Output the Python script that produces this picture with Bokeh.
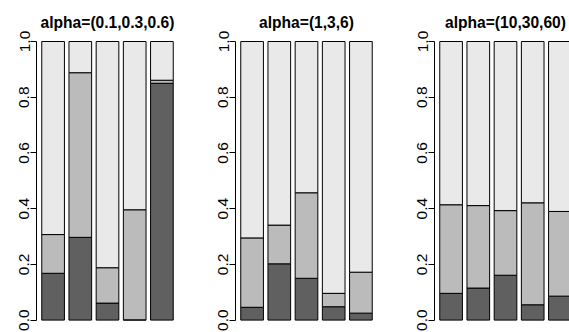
from bokeh.plotting import figure
from bokeh.layouts import row
from bokeh.models import ColumnDataSource, FixedTicker, NumeralTickFormatter, Label, Range1d
from bokeh.embed import file_html
from bokeh.resources import INLINE

titles = ["alpha=(0.1,0.3,0.6)", "alpha=(1,3,6)", "alpha=(10,30,60)"]
bar_x = [0.7, 1.9, 3.1, 4.3, 5.5]
y_ticks = [0.0, 0.2, 0.4, 0.6, 0.8, 1.0]

# proportions of the three components for each of the 5 draws, per panel
comp1 = [
    [0.168, 0.297, 0.061, 0.001, 0.850],
    [0.046, 0.202, 0.150, 0.048, 0.025],
    [0.096, 0.115, 0.161, 0.055, 0.086],
]
comp2 = [
    [0.139, 0.591, 0.127, 0.395, 0.011],
    [0.249, 0.139, 0.307, 0.048, 0.147],
    [0.318, 0.296, 0.232, 0.366, 0.304],
]
comp3 = [
    [0.693, 0.112, 0.812, 0.604, 0.139],
    [0.705, 0.659, 0.543, 0.904, 0.828],
    [0.586, 0.589, 0.607, 0.579, 0.610],
]

colors = ["#606060", "#BBBBBB", "#E9E9E9"]
panel_widths = [199, 199, 171]
right_borders = [21, 21, 0]
LEFT = 36
X0 = -0.032
UNITS_PER_PX = 6.264 / 142.0
PX_PER_Y = 278.6
Y_TOP = 1 + 41.0 / PX_PER_Y
Y_BOT = -(332 - 319.6) / PX_PER_Y
TITLE_Y = 1 + (41.0 - 21.5) / PX_PER_Y

panels = []
for i in range(3):
    frame_w = panel_widths[i] - LEFT - right_borders[i]
    x_end = X0 + frame_w * UNITS_PER_PX
    p = figure(width=panel_widths[i], height=332,
               x_range=Range1d(X0, x_end), y_range=Range1d(Y_BOT, Y_TOP),
               output_backend="svg", toolbar_location=None,
               x_axis_location=None,
               min_border_left=LEFT, min_border_right=right_borders[i],
               min_border_top=0, min_border_bottom=0)
    p.outline_line_color = None
    p.xgrid.visible = False
    p.ygrid.visible = False
    p.background_fill_color = "white"
    p.border_fill_color = "white"

    src = ColumnDataSource(dict(x=bar_x, c1=comp1[i], c2=comp2[i], c3=comp3[i]))
    p.vbar_stack(["c1", "c2", "c3"], x="x", width=1.0, source=src,
                 fill_color=colors, line_color="black", line_width=1)

    ax = p.yaxis[0]
    ax.ticker = FixedTicker(ticks=y_ticks)
    ax.formatter = NumeralTickFormatter(format="0.0")
    ax.bounds = (0, 1)
    ax.major_tick_out = 6
    ax.major_tick_in = 0
    ax.minor_tick_out = 0
    ax.minor_tick_in = 0
    ax.axis_line_color = "black"
    ax.major_tick_line_color = "black"
    ax.major_label_orientation = "vertical"
    ax.major_label_text_font = "Liberation Sans"
    ax.major_label_text_font_size = "15.5px"
    ax.major_label_text_color = "black"
    ax.major_label_standoff = 1

    p.add_layout(Label(x=3.1, y=TITLE_Y, text=titles[i], text_align="center",
                       text_baseline="alphabetic", text_font="Liberation Sans",
                       text_font_style="bold", text_font_size="15.6px",
                       text_color="black"))
    panels.append(p)

layout = row(*panels, spacing=0)
open("out.html", "w").write(file_html(layout, INLINE))
